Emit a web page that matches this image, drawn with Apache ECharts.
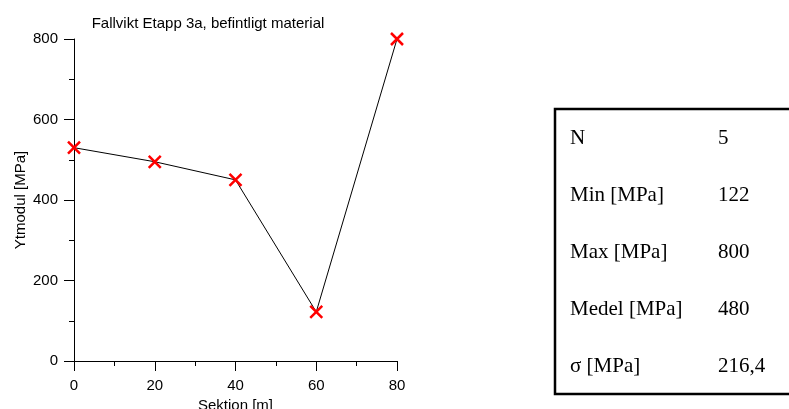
<!DOCTYPE html>
<html>
<head>
<meta charset="utf-8">
<script src="https://cdn.jsdelivr.net/npm/echarts@6/dist/echarts.min.js"></script>
<style>
  html, body { margin: 0; padding: 0; background: #fff; }
  #chart { width: 789px; height: 409px; }
</style>
</head>
<body>
<div id="chart"></div>
<script>
// Fallvikt, ytmodul per sektion
const sektion = [0, 20, 40, 60, 80];
const ytmodul = [530, 495, 450, 122, 800];

// statistik-tabellen till höger
const statNames = ['N', 'Min [MPa]', 'Max [MPa]', 'Medel [MPa]', 'σ [MPa]'];
const statValues = ['5', '122', '800', '480', '216,4'];

const chart = echarts.init(document.getElementById('chart'));

const tableTexts = statNames.map((name, i) => [
  {
    type: 'text',
    x: 570,
    y: 138 + i * 57,
    style: { text: name, font: '21px "Liberation Serif"', fill: '#000', verticalAlign: 'middle' }
  },
  {
    type: 'text',
    x: 718,
    y: 138 + i * 57,
    style: { text: statValues[i], font: '21px "Liberation Serif"', fill: '#000', verticalAlign: 'middle' }
  }
]).flat();

const option = {
  animation: false,
  backgroundColor: '#fff',
  textStyle: { fontFamily: '"Liberation Sans", Arial, sans-serif', color: '#000' },
  title: {
    text: 'Fallvikt Etapp 3a, befintligt material',
    left: 203,
    top: 11,
    textAlign: 'center',
    textStyle: { fontSize: 15, fontWeight: 'normal', color: '#000' }
  },
  grid: { left: 74, right: 392, top: 39, bottom: 48, outerBoundsMode: 'none' },
  xAxis: {
    type: 'value',
    min: 0,
    max: 80,
    interval: 20,
    name: 'Sektion [m]',
    nameLocation: 'middle',
    nameGap: 33,
    nameTextStyle: { fontSize: 15, color: '#000' },
    axisLine: { lineStyle: { color: '#000', width: 1 } },
    axisTick: { length: 10, lineStyle: { color: '#000' } },
    minorTick: { show: true, splitNumber: 2, length: 5, lineStyle: { color: '#000' } },
    axisLabel: { margin: 17, fontSize: 15, color: '#000' },
    splitLine: { show: false }
  },
  yAxis: {
    type: 'value',
    min: 0,
    max: 800,
    interval: 200,
    name: 'Ytmodul [MPa]',
    nameLocation: 'middle',
    nameGap: 46,
    nameTextStyle: { fontSize: 15, color: '#000' },
    axisLine: { show: true, lineStyle: { color: '#000', width: 1 } },
    axisTick: { show: true, length: 10, lineStyle: { color: '#000' } },
    minorTick: { show: true, splitNumber: 2, length: 5, lineStyle: { color: '#000' } },
    axisLabel: { margin: 16, fontSize: 15, color: '#000' },
    splitLine: { show: false }
  },
  series: [{
    type: 'line',
    data: sektion.map((x, i) => [x, ytmodul[i]]),
    lineStyle: { color: '#000', width: 1 },
    symbol: 'path://M0,0 L10,10 M10,0 L0,10',
    symbolSize: 12,
    itemStyle: { color: 'none', borderColor: '#ff0000', borderWidth: 2.5 },
    clip: false
  }],
  graphic: [
    {
      type: 'rect',
      shape: { x: 555, y: 109, width: 240, height: 285 },
      style: { fill: 'none', stroke: '#000', lineWidth: 2.5 }
    },
    ...tableTexts
  ]
};

chart.setOption(option);
</script>
</body>
</html>
